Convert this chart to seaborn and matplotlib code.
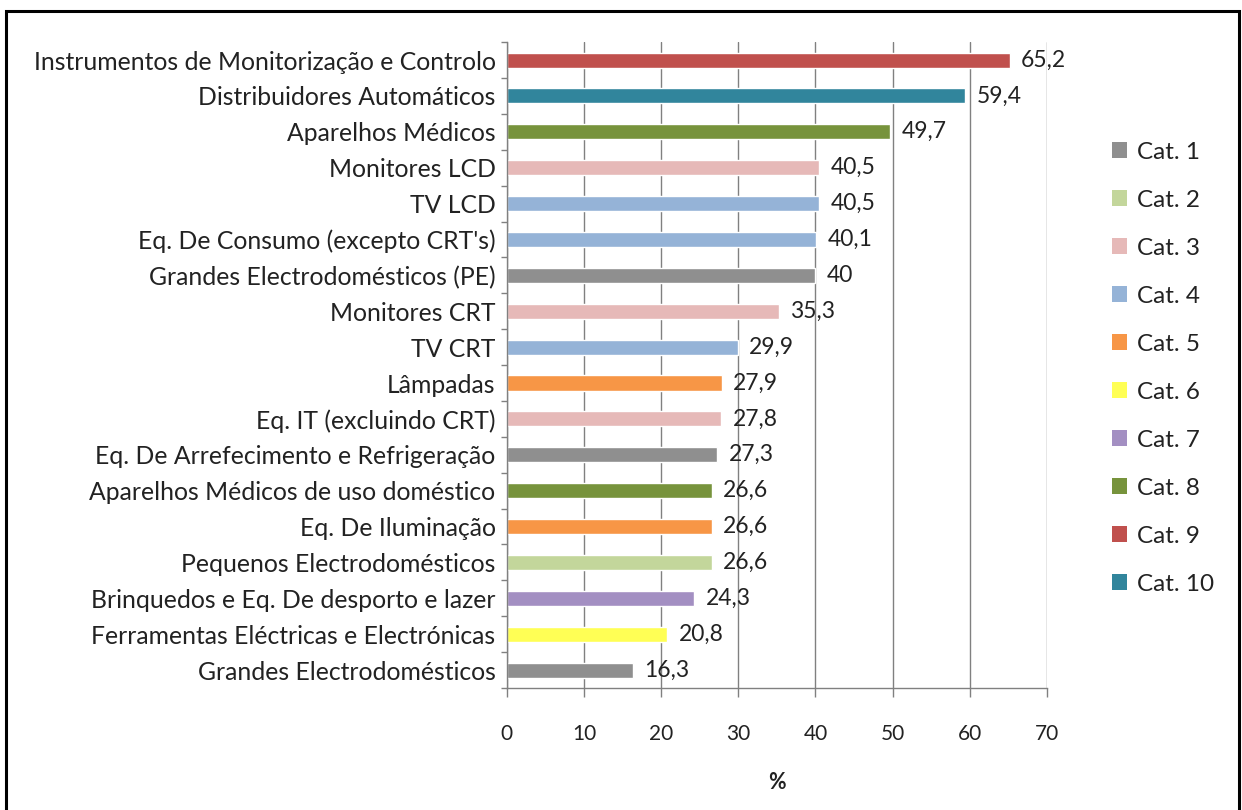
import matplotlib
matplotlib.use("Agg")
import matplotlib.pyplot as plt
import numpy as np
import pandas as pd
import seaborn as sns
from matplotlib.patches import Patch, Rectangle

sns.set_theme(style="white")
plt.rcParams["font.family"] = ["Lato", "DejaVu Sans"]

# dados (de cima para baixo)
equipamentos = [
    "Instrumentos de Monitorização e Controlo",
    "Distribuidores Automáticos",
    "Aparelhos Médicos",
    "Monitores LCD",
    "TV LCD",
    "Eq. De Consumo (excepto CRT's)",
    "Grandes Electrodomésticos (PE)",
    "Monitores CRT",
    "TV CRT",
    "Lâmpadas",
    "Eq. IT (excluindo CRT)",
    "Eq. De Arrefecimento e Refrigeração",
    "Aparelhos Médicos de uso doméstico",
    "Eq. De Iluminação",
    "Pequenos Electrodomésticos",
    "Brinquedos e Eq. De desporto e lazer",
    "Ferramentas Eléctricas e Electrónicas",
    "Grandes Electrodomésticos",
]
percentagens = [65.2, 59.4, 49.7, 40.5, 40.5, 40.1, 40.0, 35.3, 29.9, 27.9,
                27.8, 27.3, 26.6, 26.6, 26.6, 24.3, 20.8, 16.3]
categorias = ["Cat. 9", "Cat. 10", "Cat. 8", "Cat. 3", "Cat. 4", "Cat. 4",
              "Cat. 1", "Cat. 3", "Cat. 4", "Cat. 5", "Cat. 3", "Cat. 1",
              "Cat. 8", "Cat. 5", "Cat. 2", "Cat. 7", "Cat. 6", "Cat. 1"]
ordem_cat = [f"Cat. {i}" for i in range(1, 11)]
cores_cat = ["#8f8f8f", "#c3d69b", "#e6b9b8", "#95b3d7", "#f79646",
             "#ffff55", "#a38fc2", "#77933c", "#c0504d", "#31859c"]

df = pd.DataFrame({"equip": equipamentos, "pct": percentagens, "cat": categorias})
palette = dict(zip(ordem_cat, cores_cat))

fig = plt.figure(figsize=(12.42, 8.10), dpi=100)
ax = fig.add_axes([0.408, 0.1506, 0.435, 0.7974])

sns.barplot(data=df, y="equip", x="pct", hue="cat", hue_order=ordem_cat,
            palette=palette, dodge=False, width=0.42, orient="h",
            saturation=1, legend=False, ax=ax)

# rótulos de valor com vírgula decimal
for patch, v in zip(sorted([p for p in ax.patches if p.get_width() > 0],
                           key=lambda p: p.get_y()), percentagens):
    txt = f"{v:g}".replace(".", ",")
    ax.annotate(txt, (patch.get_width(), patch.get_y() + patch.get_height() / 2),
                xytext=(8, 0), textcoords="offset points", va="center",
                ha="left", fontsize=16.5, color="#222222")

ax.set_xlim(0, 70)
ax.set_xticks(range(0, 71, 10))
ax.set_ylim(17.5, -0.5)
ax.set_xlabel("%", fontsize=15.5, fontweight="bold", labelpad=20, color="#222222")
ax.set_ylabel("")

ax.grid(axis="x", color="#808080", lw=1)
ax.set_axisbelow(True)
for s in ("top", "right"):
    ax.spines[s].set_visible(False)
for s in ("left", "bottom"):
    ax.spines[s].set_color("#808080")
    ax.spines[s].set_linewidth(1)

ax.tick_params(axis="x", which="major", length=6.5, width=1, color="#808080",
               direction="out", bottom=True, pad=19.5, labelsize=15,
               labelcolor="#222222")
ax.tick_params(axis="y", which="major", length=0, pad=8, labelsize=17.8,
               labelcolor="#222222")
ax.set_yticks(np.arange(-0.5, 18, 1), minor=True)
ax.tick_params(axis="y", which="minor", length=4, width=1, color="#808080",
               direction="out", left=True)

handles = [Patch(facecolor=palette[c], edgecolor="none") for c in ordem_cat]
fig.legend(handles, ordem_cat, loc="upper left", bbox_to_anchor=(0.878, 0.852),
           frameon=False, fontsize=17.5, handlelength=0.6, handleheight=0.6,
           handletextpad=0.4, labelspacing=1.11, labelcolor="#222222")

# moldura exterior
fig.patches.append(Rectangle((6 / 1242, -0.01), 1233 / 1242, 1 - 11 / 810 + 0.01,
                             transform=fig.transFigure, fill=False,
                             edgecolor="black", lw=2.2))

fig.savefig("out.png", dpi=100)
